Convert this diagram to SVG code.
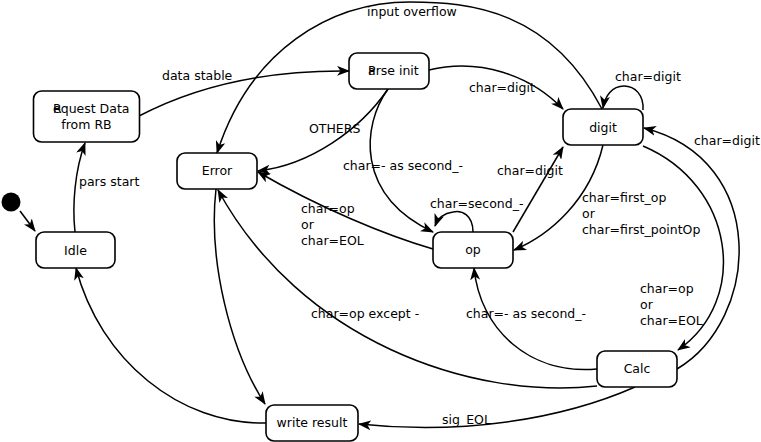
<svg xmlns="http://www.w3.org/2000/svg" width="761" height="442" viewBox="0 0 761 442">
<style>
.n rect{fill:#fff;stroke:#000;stroke-width:1.6}
text{font-family:"DejaVu Sans","Liberation Sans",sans-serif;font-size:12.5px;fill:#000}
.m{text-anchor:middle}
.e path,.e line{fill:none;stroke:#000;stroke-width:1.5;marker-end:url(#a)}
</style>
<defs>
<marker id="a" viewBox="0 0 13 10" refX="12" refY="5" markerWidth="13" markerHeight="10" markerUnits="userSpaceOnUse" orient="auto">
<path d="M0,0 L13,5 L0,10 L3.5,5 z" fill="#000"/>
</marker>
</defs>
<rect width="761" height="442" fill="#fff"/>
<g id="edges" class="e">
<line x1="20" y1="211" x2="35" y2="231"/>
<path d="M75,232 C72,205 75,170 85,143"/>
<path d="M139,116 C200,84 270,70 349,71"/>
<path d="M602,109 C550,10 470,2 410,2 C330,2 250,50 217,153"/>
<path d="M429,70 C480,58 530,75 563,109"/>
<path d="M388,89 C360,130 310,165 258,171"/>
<path d="M388,89 C362,125 355,195 433,232"/>
<path d="M643,110 C644,95 635,86 624,86 C612,86 605,96 603,108"/>
<path d="M513,232 L563,147"/>
<path d="M603,145 C590,200 550,235 514,250"/>
<path d="M473,232 C473,215 462,210 453,212 C445,213 438,218 435,226"/>
<path d="M433,249 C385,235 320,208 258,172"/>
<path d="M216,189 C208,260 230,350 265,404"/>
<path d="M597,386 C470,400 300,340 218,190"/>
<path d="M597,369 C530,375 480,330 474,268"/>
<path d="M643,146 C735,185 750,300 678,350"/>
<path d="M677,369 C760,320 770,160 644,128"/>
<path d="M635,387 C560,420 460,435 359,424"/>
<path d="M266,423 C180,425 100,360 76,268"/>
</g>
<g id="labels">
<text x="79" y="186">pars start</text>
<text x="162" y="80">data stable</text>
<text x="367" y="16">input overflow</text>
<text x="469" y="92">char=digit</text>
<text x="309" y="133">OTHERS</text>
<text x="343" y="170">char=- as second_-</text>
<text x="497" y="175">char=digit</text>
<text x="430" y="208">char=second_-</text>
<text x="301" y="213">char=op</text>
<text x="301" y="229">or</text>
<text x="301" y="245">char=EOL</text>
<text x="615" y="81">char=digit</text>
<text x="694" y="145">char=digit</text>
<text x="582" y="202">char=first_op</text>
<text x="582" y="218">or</text>
<text x="582" y="234">char=first_pointOp</text>
<text x="640" y="293">char=op</text>
<text x="640" y="309">or</text>
<text x="640" y="325">char=EOL</text>
<text x="311" y="318">char=op except -</text>
<text x="466" y="318">char=- as second_-</text>
<text x="442" y="424">sig_EOL</text>
</g>
<circle id="start" cx="11" cy="202" r="9.5" fill="#000"/>
<g id="request" class="n"><rect x="33.5" y="91" width="106" height="51" rx="8"/><text x="53" y="113"><tspan>R</tspan><tspan x="53">equest Data</tspan></text><text class="m" x="86.5" y="129">from RB</text></g>
<g id="idle" class="n"><rect x="36" y="232" width="79" height="36" rx="8"/><text class="m" x="75.5" y="254.5">Idle</text></g>
<g id="error" class="n"><rect x="177" y="153" width="80" height="36" rx="8"/><text class="m" x="217" y="175">Error</text></g>
<g id="parse" class="n"><rect x="349" y="53" width="80" height="36" rx="8"/><text x="368" y="75"><tspan>P</tspan><tspan x="368">arse init</tspan></text></g>
<g id="digit" class="n"><rect x="563" y="109" width="80" height="36" rx="8"/><text class="m" x="603" y="131.5">digit</text></g>
<g id="op" class="n"><rect x="433" y="232" width="80" height="36" rx="8"/><text class="m" x="473" y="254">op</text></g>
<g id="calc" class="n"><rect x="597" y="351" width="80" height="36" rx="8"/><text class="m" x="637" y="373">Calc</text></g>
<g id="write" class="n"><rect x="266" y="405" width="92" height="36" rx="8"/><text class="m" x="312" y="427">write result</text></g>
</svg>
